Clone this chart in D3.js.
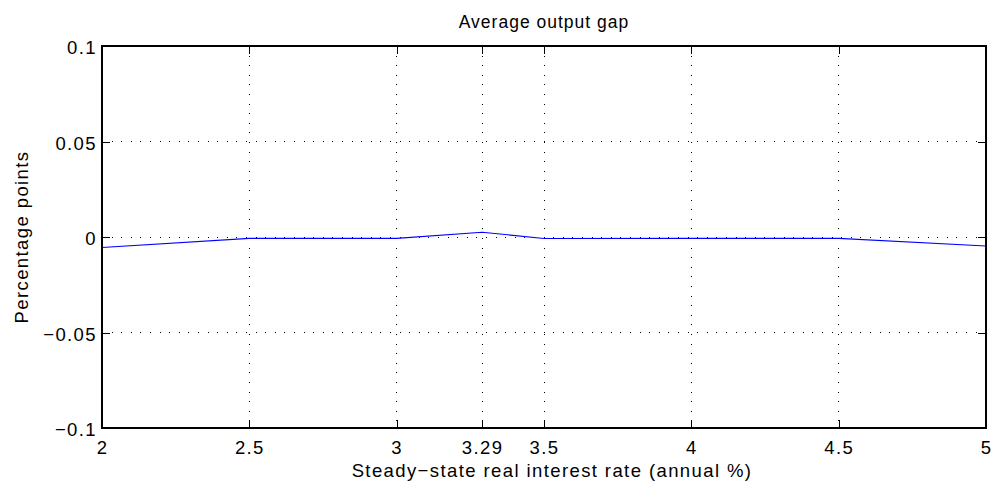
<!DOCTYPE html>
<html>
<head>
<meta charset="utf-8">
<script src="https://cdn.jsdelivr.net/npm/d3@7"></script>
<style>
  html, body { margin: 0; padding: 0; background: #fff; }
  svg { display: block; font-family: "Liberation Sans", Arial, sans-serif; }
</style>
</head>
<body>
<div id="chart"></div>
<script>
/* ============================
   DATA
============================ */
const rates = [2, 2.5, 3, 3.29, 3.5, 4, 4.5, 5];
const outputGap = [-0.0055, -0.0007, -0.0007, 0.0025, -0.0008, -0.0007, -0.0007, -0.0047];

const xTicks = [2, 2.5, 3, 3.29, 3.5, 4, 4.5, 5];
const yTicks = [-0.1, -0.05, 0, 0.05, 0.1];

const TITLE = "Average output gap";
const XLABEL = "Steady\u2212state real interest rate (annual %)";
const YLABEL = "Percentage points";

/* ============================
   LAYOUT
============================ */
const W = 1002, H = 492;
const m = { top: 46, right: 16, bottom: 64, left: 102 };
const iw = W - m.left - m.right;
const ih = H - m.top - m.bottom;

const FS = "18.5px";     // tick + label font
const LS = "1.4px";      // letter spacing (helvetica in the original renders wide)

const svg = d3.select("#chart").append("svg")
  .attr("width", W).attr("height", H);

const g = svg.append("g").attr("transform", `translate(${m.left},${m.top})`);

const x = d3.scaleLinear().domain([2, 5]).range([0, iw]);
const y = d3.scaleLinear().domain([-0.1, 0.1]).range([ih, 0]);

const fmtTick = v => {
  if (v === 0) return "0";
  return String(v).replace("-", "\u2212");
};

// grid (dotted)
g.append("g").selectAll("line").data(xTicks.slice(1, -1)).enter().append("line")
  .attr("x1", d => x(d)).attr("x2", d => x(d))
  .attr("y1", 0).attr("y2", ih)
  .attr("stroke", "#000").attr("stroke-width", 1)
  .attr("stroke-dasharray", "1,8.6")
  .attr("shape-rendering", "crispEdges");

g.append("g").selectAll("line").data(yTicks.slice(1, -1)).enter().append("line")
  .attr("x1", 0).attr("x2", iw)
  .attr("y1", d => y(d)).attr("y2", d => y(d))
  .attr("stroke", "#000").attr("stroke-width", 1)
  .attr("stroke-dasharray", "1,8.6")
  .attr("shape-rendering", "crispEdges");

// the line
const line = d3.line().x((d, i) => x(rates[i])).y(d => y(d));
g.append("path").datum(outputGap)
  .attr("fill", "none")
  .attr("stroke", "#0000ff")
  .attr("stroke-width", 1.1)
  .attr("d", line);

// axes (MATLAB style: ticks inward, on all four sides)
const TL = 8;
const xb = d3.axisBottom(x).tickValues(xTicks).tickSize(-TL).tickPadding(13).tickFormat(fmtTick);
const xt = d3.axisTop(x).tickValues(xTicks).tickSize(-TL).tickFormat("");
const yl = d3.axisLeft(y).tickValues(yTicks).tickSize(-TL).tickPadding(5).tickFormat(fmtTick);
const yr = d3.axisRight(y).tickValues(yTicks).tickSize(-TL).tickFormat("");

function styleAxis(sel) {
  sel.select(".domain").remove();
  sel.selectAll("line").attr("stroke", "#000").attr("shape-rendering", "crispEdges");
  sel.selectAll("text").attr("fill", "#000")
    .style("font-size", FS).style("letter-spacing", LS);
}

g.append("g").attr("transform", `translate(0,${ih})`).call(xb).call(styleAxis);
g.append("g").call(xt).call(styleAxis);
g.append("g").call(yl).call(styleAxis)
  .selectAll("text").attr("dy", "0.42em");
g.append("g").attr("transform", `translate(${iw},0)`).call(yr).call(styleAxis);

// box
g.append("rect")
  .attr("x", 0).attr("y", 0).attr("width", iw).attr("height", ih)
  .attr("fill", "none").attr("stroke", "#000").attr("stroke-width", 1.6)
  .attr("shape-rendering", "crispEdges");

// labels
svg.append("text")
  .attr("x", m.left + iw / 2).attr("y", 28)
  .attr("text-anchor", "middle")
  .style("font-size", "17.5px").style("letter-spacing", "1px")
  .text(TITLE);

svg.append("text")
  .attr("x", m.left + iw / 2 + 8).attr("y", 477)
  .attr("text-anchor", "middle")
  .style("font-size", FS).style("letter-spacing", LS)
  .text(XLABEL);

svg.append("text")
  .attr("transform", `translate(28,${m.top + ih / 2}) rotate(-90)`)
  .attr("text-anchor", "middle")
  .style("font-size", FS).style("letter-spacing", LS)
  .text(YLABEL);
</script>
</body>
</html>
